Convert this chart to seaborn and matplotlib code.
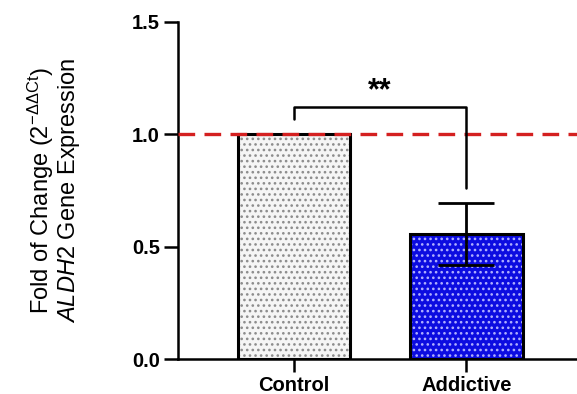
import matplotlib
matplotlib.use("Agg")
import matplotlib.pyplot as plt
import seaborn as sns
import pandas as pd
from matplotlib.patches import Rectangle

categories = ["Control", "Addictive"]
means = [1.0, 0.556]
errors = [0.0, 0.137]
fill_colors = ["#f5f5f5", "#0c0ce0"]
hatch_colors = ["#8c8c8c", "#b0b0ff"]
yticks = [0.0, 0.5, 1.0, 1.5]
sig_text = "**"
sig_y = 1.12
sig_left_end = 1.065
sig_right_end = 0.76
ref_line = 1.0

sns.set_style("ticks")
plt.rcParams['font.family'] = ['Liberation Sans', 'DejaVu Sans']
plt.rcParams['text.color'] = 'black'
plt.rcParams['axes.labelcolor'] = 'black'
plt.rcParams['mathtext.fontset'] = 'custom'
plt.rcParams['mathtext.rm'] = 'Liberation Sans'
plt.rcParams['mathtext.it'] = 'Liberation Sans:italic'
plt.rcParams['hatch.linewidth'] = 1.1

df = pd.DataFrame({"group": categories, "value": means})

fig = plt.figure(figsize=(5.77, 3.94), dpi=100)
ax = fig.add_axes([0.3085, 0.0888, 0.6915, 0.8566])

sns.barplot(data=df, x="group", y="value", hue="group", palette=fill_colors,
            width=0.65, ax=ax, legend=False, saturation=1)

for patch, hc in zip(ax.patches, hatch_colors):
    patch.set_hatch("...")
    patch.set_edgecolor(hc)
    patch.set_linewidth(0)
    outline = Rectangle(patch.get_xy(), patch.get_width(), patch.get_height(),
                        fill=False, edgecolor="black", linewidth=2.2, zorder=3)
    ax.add_patch(outline)

for i, (m, e) in enumerate(zip(means, errors)):
    if e > 0:
        ax.errorbar(i, m, yerr=e, fmt="none", ecolor="black", elinewidth=2,
                    capsize=20, capthick=2, zorder=4)

ax.axhline(ref_line, color="#d42020", linestyle=(0, (5, 2.8)), linewidth=2.4, zorder=5)

ax.plot([0, 0, 1, 1], [sig_left_end, sig_y, sig_y, sig_right_end], color="black",
        linewidth=1.8, zorder=6, clip_on=False)
ax.text(0.5, sig_y + 0.005, sig_text, ha="center", va="bottom", fontsize=22,
        fontweight="bold", color="black")

ax.set_xlim(-0.67, 1.64)
ax.set_ylim(0, 1.5)
ax.set_yticks(yticks)
ax.set_yticklabels([f"{t:.1f}" for t in yticks], fontweight="bold", fontsize=14.5)
ax.set_xticks(range(len(categories)))
ax.set_xticklabels(categories, fontweight="bold", fontsize=14.5)
ax.tick_params(axis="y", direction="out", length=10, width=1.8, colors="black", pad=3)
ax.tick_params(axis="x", direction="out", length=9, width=1.8, colors="black", pad=3)
ax.set_xlabel("")
ax.set_ylabel("Fold of Change (2$^{-\\Delta\\Delta \\mathrm{Ct}}$)\n$\\it{ALDH2}$ Gene Expression",
              fontsize=17, labelpad=36, linespacing=1.0, color="black")
sns.despine(ax=ax)
for s in ["left", "bottom"]:
    ax.spines[s].set_linewidth(1.8)
    ax.spines[s].set_color("black")

fig.savefig("out.png", dpi=100)
